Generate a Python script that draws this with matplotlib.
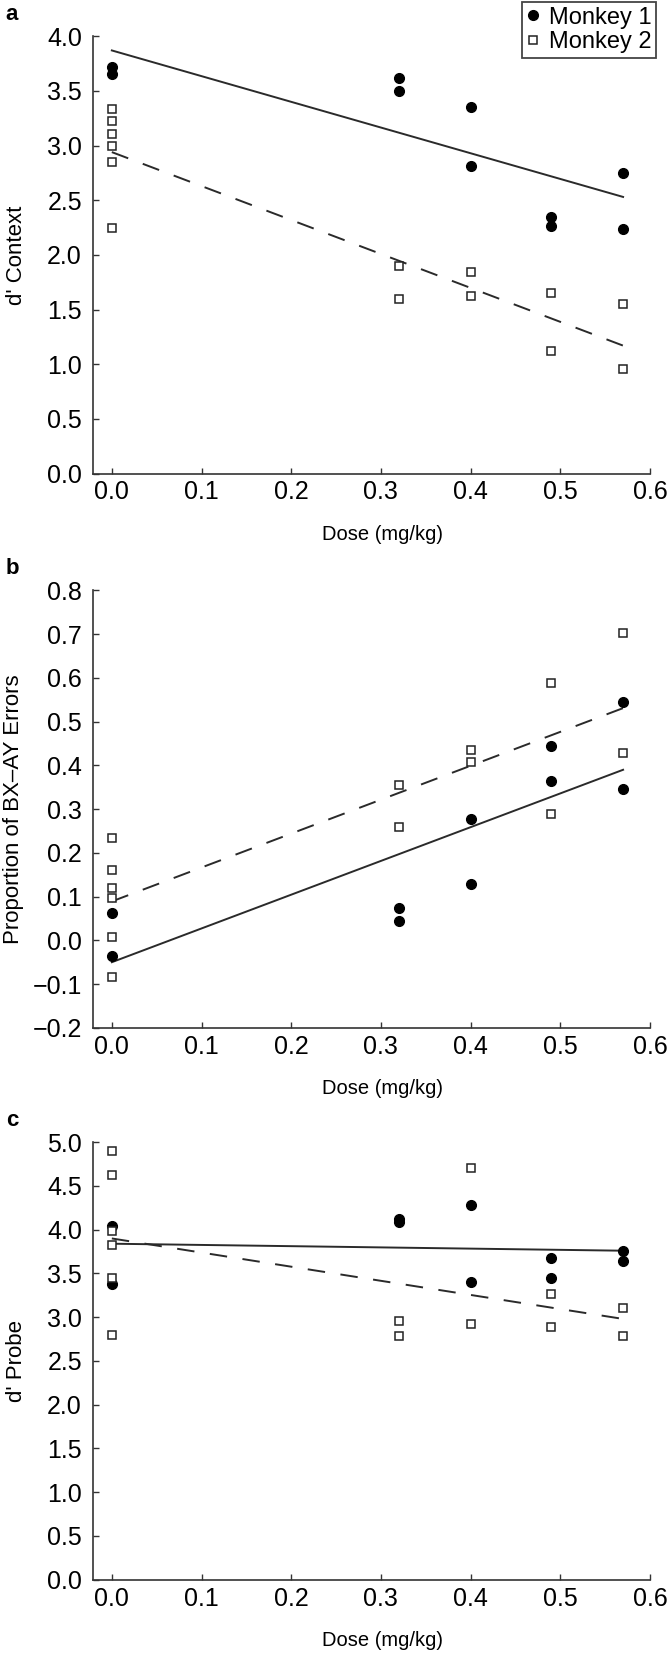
import matplotlib.pyplot as plt

plt.rcParams['font.family'] = ['Liberation Sans', 'DejaVu Sans']

doses = [0.0, 0.32, 0.40, 0.49, 0.57]

# panel a: d' Context, values per dose
a_m1 = [[3.72, 3.65], [3.62, 3.50], [3.35, 2.81], [2.35, 2.26], [2.75, 2.24]]
a_m2 = [[3.33, 3.22, 3.11, 3.00, 2.85, 2.25], [1.90, 1.60], [1.84, 1.62], [1.65, 1.12], [1.55, 0.96]]
a_fit1 = [3.87, 2.53]   # line value at dose 0 and 0.57
a_fit2 = [2.94, 1.17]

# panel b: proportion of BX-AY errors
b_m1 = [[0.063, -0.036], [0.075, 0.045], [0.277, 0.128], [0.444, 0.364], [0.546, 0.345]]
b_m2 = [[0.234, 0.161, 0.119, 0.096, 0.008, -0.084], [0.355, 0.26], [0.435, 0.407], [0.588, 0.289], [0.702, 0.428]]
b_fit1 = [-0.05, 0.39]
b_fit2 = [0.089, 0.531]

# panel c: d' Probe
c_m1 = [[4.04, 3.38], [4.12, 4.09], [4.28, 3.40], [3.68, 3.45], [3.76, 3.64]]
c_m2 = [[4.90, 4.62, 3.99, 3.83, 3.45, 2.80], [2.96, 2.78], [4.70, 2.92], [3.26, 2.89], [3.10, 2.78]]
c_fit1 = [3.84, 3.76]
c_fit2 = [3.90, 2.98]

panels = [
    ("a", "d' Context", a_m1, a_m2, a_fit1, a_fit2, 0.0, 4.0, 0.5, 0.7137, -0.118),
    ("b", "Proportion of BX\u2013AY Errors", b_m1, b_m2, b_fit1, b_fit2, -0.2, 0.8, 0.1, 0.3786, -0.124),
    ("c", "d' Probe", c_m1, c_m2, c_fit1, c_fit2, 0.0, 5.0, 0.5, 0.0450, -0.118),
]

fig = plt.figure(figsize=(6.7, 16.54), dpi=100)
W, H = 670, 1654

for letter, ylab, m1, m2, f1, f2, ymin, ymax, step, bottom, ylx in panels:
    ax = fig.add_axes([93 / W, bottom, 557 / W, 0.2644])
    fx = [doses[0], doses[-1]]
    ax.plot(fx, f1, color='#2a2a2a', lw=1.4)
    ax.plot(fx, f2, color='#2a2a2a', lw=1.4, dashes=(9, 8))
    x1 = [d for d, vals in zip(doses, m1) for v in vals]
    y1 = [v for vals in m1 for v in vals]
    x2 = [d for d, vals in zip(doses, m2) for v in vals]
    y2 = [v for vals in m2 for v in vals]
    ax.plot(x1, y1, 'o', color='black', ms=7, label='Monkey 1', zorder=3)
    ax.plot(x2, y2, 's', mfc='white', mec='#222222', mew=1.1, ms=5.2, label='Monkey 2', zorder=3)

    ax.set_xlim(-0.021, 0.6)
    ax.set_ylim(ymin, ymax)
    n = int(round((ymax - ymin) / step))
    ticks = [ymin + i * step for i in range(n + 1)]
    ax.set_yticks(ticks)
    ax.set_yticklabels([f"{t:.1f}".replace('-', '\u2212') if abs(t) > 1e-9 else "0.0" for t in ticks])
    ax.set_xticks([0.0, 0.1, 0.2, 0.3, 0.4, 0.5, 0.6])
    ax.set_xticklabels(["0.0", "0.1", "0.2", "0.3", "0.4", "0.5", "0.6"])
    for s in ['top', 'right']:
        ax.spines[s].set_visible(False)
    for s in ['left', 'bottom']:
        ax.spines[s].set_color('#333333')
        ax.spines[s].set_linewidth(1.2)
    ax.tick_params(direction='in', length=4, width=1.0, color='#333333', labelsize=18)
    ax.tick_params(axis='y', pad=8)
    ax.tick_params(axis='x', pad=5)
    ax.set_xlabel("Dose (mg/kg)", fontsize=14.5)
    ax.xaxis.set_label_coords(0.52, -0.118)
    ax.set_ylabel(ylab, fontsize=16)
    ax.yaxis.set_label_coords(ylx, 0.5)

    top_px = (1 - bottom - 0.2644) * H
    fig.text(12 / W, 1 - (top_px - 22) / H, letter, fontsize=16, fontweight='bold', va='center', ha='center')

    if letter == "a":
        leg = fig.legend(loc='upper right', bbox_to_anchor=(656 / W, 1 - 2 / H), fontsize=17,
                         handlelength=0.6, handletextpad=0.35, borderpad=0.2, labelspacing=0.1,
                         fancybox=False, framealpha=1, borderaxespad=0)
        leg.get_frame().set_edgecolor('#444444')
        leg.get_frame().set_linewidth(1.3)

fig.savefig("out.png", dpi=100)
